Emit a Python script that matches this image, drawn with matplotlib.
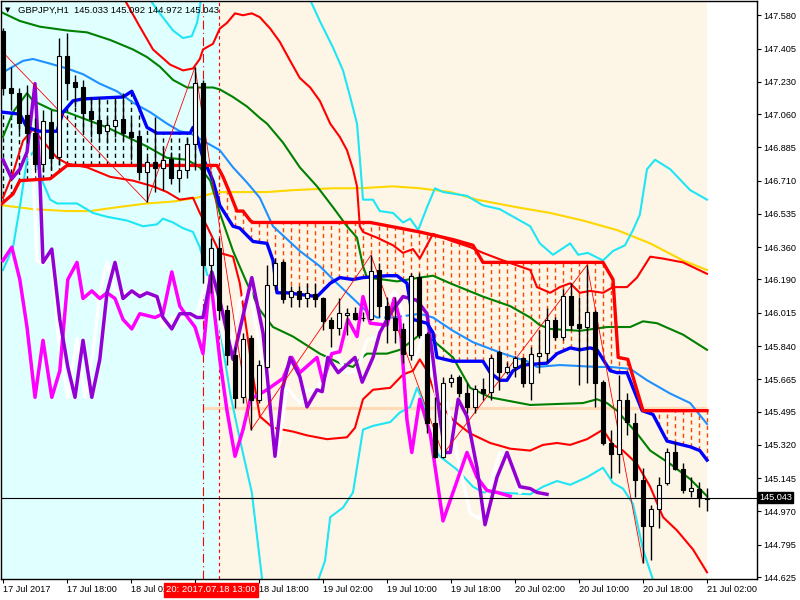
'''
    GBPJPY H1 chart with ichimoku / bands overlay, MT4 style
'''

# - Imports

import matplotlib
matplotlib.use("Agg")
import matplotlib.pyplot as plt
import numpy as np

# - Data

# Candles, bar 0 = 17 Jul 10:00, one bar per hour
opens = [147.496, 147.196, 147.170, 147.054, 146.960, 146.797, 147.018, 146.834, 147.365, 147.228,
         147.202, 147.075, 147.028, 146.970, 146.996, 147.033, 146.965, 146.944, 146.755, 146.807,
         146.776, 146.823, 146.723, 146.765, 146.902, 147.223, 146.266, 146.355, 146.029, 145.792,
         145.572, 145.882, 145.556, 145.729, 146.161, 146.281, 146.097, 146.129, 146.092, 146.113,
         146.092, 145.976, 145.934, 146.003, 146.013, 145.987, 145.982, 146.239, 146.050, 145.987,
         145.929, 145.792, 146.203, 145.903, 145.435, 145.256, 145.650, 145.677, 145.593, 145.519,
         145.614, 145.598, 145.808, 145.703, 145.729, 145.777, 145.645, 145.787, 145.803, 145.976,
         145.887, 146.103, 145.955, 145.940, 146.018, 145.650, 145.330, 145.272, 145.556, 145.435,
         145.135, 144.893, 144.983, 145.119, 145.282, 145.193, 145.077, 145.088, 145.033]
highs = [147.512, 147.307, 147.196, 147.212, 147.039, 147.081, 147.081, 147.459, 147.486, 147.265,
         147.238, 147.149, 147.149, 147.044, 147.144, 147.170, 147.033, 146.975, 146.834, 147.044,
         146.886, 146.860, 146.855, 146.939, 147.307, 147.238, 146.408, 146.408, 146.055, 145.835,
         145.908, 145.898, 145.766, 146.266, 146.302, 146.292, 146.155, 146.155, 146.171, 146.171,
         146.097, 145.992, 146.092, 146.040, 146.045, 146.018, 146.318, 146.276, 146.097, 146.097,
         145.961, 146.224, 146.224, 145.913, 145.572, 145.677, 145.692, 145.687, 145.645, 145.635,
         145.671, 145.792, 145.819, 145.756, 145.787, 145.782, 145.835, 145.924, 146.040, 145.992,
         146.139, 146.171, 146.097, 146.266, 146.029, 145.661, 145.398, 145.687, 145.593, 145.487,
         145.198, 145.004, 145.151, 145.303, 145.335, 145.225, 145.151, 145.125, 145.092]
lows = [147.160, 147.081, 146.965, 146.907, 146.765, 146.755, 146.765, 146.791, 147.133, 147.096,
        146.965, 146.939, 146.912, 146.907, 146.939, 146.923, 146.818, 146.713, 146.597, 146.649,
        146.660, 146.692, 146.649, 146.723, 146.765, 146.171, 146.118, 145.976, 145.740, 145.514,
        145.540, 145.398, 145.540, 145.724, 146.134, 146.066, 146.045, 146.045, 146.045, 146.045,
        145.924, 145.835, 145.898, 145.898, 145.976, 145.971, 145.976, 145.992, 145.856, 145.856,
        145.750, 145.766, 145.882, 145.382, 145.251, 145.251, 145.624, 145.572, 145.487, 145.487,
        145.556, 145.556, 145.608, 145.692, 145.677, 145.624, 145.556, 145.698, 145.756, 145.871,
        145.871, 145.924, 145.635, 145.645, 145.519, 145.319, 145.146, 145.172, 145.372, 145.046,
        144.699, 144.715, 144.883, 145.109, 145.188, 145.067, 145.046, 144.993, 144.972]
closes = [147.196, 147.170, 147.012, 146.960, 146.797, 147.023, 146.828, 147.365, 147.223, 147.202,
          147.065, 147.033, 146.960, 147.002, 147.028, 146.960, 146.939, 146.755, 146.807, 146.776,
          146.818, 146.723, 146.765, 146.902, 147.223, 146.266, 146.355, 146.029, 145.792, 145.566,
          145.877, 145.556, 145.740, 146.161, 146.276, 146.087, 146.129, 146.087, 146.118, 146.087,
          145.971, 145.934, 146.013, 146.013, 145.982, 145.989, 146.234, 146.050, 145.982, 145.924,
          145.798, 146.208, 145.898, 145.435, 145.256, 145.645, 145.671, 145.593, 145.519, 145.614,
          145.593, 145.777, 145.703, 145.729, 145.777, 145.645, 145.798, 145.803, 145.976, 145.887,
          146.103, 145.950, 145.934, 146.018, 145.645, 145.330, 145.272, 145.556, 145.440, 145.135,
          144.893, 144.983, 145.109, 145.282, 145.193, 145.083, 145.093, 145.040, 145.043]

# Thick red (senkou span B)
span_b_x = [-0.4, 1.25, 2.1, 5.9, 8.0, 24.6, 26.75, 27.5, 28.4, 29.25, 30.0, 30.9, 31.25, 45.9,
            52.1, 56.25, 58.75, 60.0, 75.0, 76.25, 76.9, 78.1, 80.0, 88.0]
span_b_y = [146.58, 146.64, 146.71, 146.72, 146.79, 146.79, 146.79, 146.73, 146.64, 146.55, 146.55,
            146.50, 146.49, 146.49, 146.44, 146.40, 146.37, 146.28, 146.28, 146.19, 145.78, 145.77,
            145.50, 145.50]

# Thick blue (senkou span A)
span_a_x = [0, 2.1, 3.0, 4.6, 6.75, 7.5, 8.75, 10, 15, 16.1, 16.75, 18, 19.25, 23.4, 23.75, 24.25,
            25, 26.25, 27.1, 28.75, 29.6, 31.25, 33, 33.75, 34.25, 35.5, 39.25, 40.9, 42.1, 43.75,
            45, 48, 49.25, 50.5, 51.25, 53, 53.75, 54.25, 56.25, 60, 60.9, 62.1, 63, 63.75, 65, 68,
            69.25, 70.9, 72.1, 73.4, 74.25, 75, 75.9, 76.75, 78, 78.75, 79.9, 81.25, 83, 85.9,
            87.1, 88]
span_a_y = [147.07, 147.06, 146.99, 146.97, 146.97, 147.07, 147.13, 147.14, 147.15, 147.18, 147.12,
            146.99, 146.96, 146.96, 146.99, 146.94, 146.83, 146.71, 146.58, 146.47, 146.46, 146.39,
            146.38, 146.29, 146.12, 146.12, 146.10, 146.17, 146.20, 146.19, 146.20, 146.21, 146.21,
            146.17, 145.98, 145.96, 145.91, 145.78, 145.76, 145.76, 145.70, 145.66, 145.66, 145.71,
            145.74, 145.75, 145.80, 145.83, 145.82, 145.83, 145.82, 145.77, 145.71, 145.70, 145.70,
            145.62, 145.50, 145.48, 145.34, 145.31, 145.29, 145.24]

# Dodger blue moving average
ma_x = [0, 1.25, 2.5, 3.75, 5.5, 8, 10, 12.1, 14.25, 16.25, 18.4, 20.5, 22.1, 23.4, 25, 27.1,
        28.75, 30.5, 32.1, 33.75, 37.1, 39.6, 41.75, 43.75, 45.5, 46.75, 48.75, 50.5, 52.1, 53.75,
        56.25, 58.75, 62.5, 65.5, 66.75, 69.6, 74.25, 75.9, 78.4, 80.5, 83.4, 85.9, 88]
ma_y = [147.28, 147.31, 147.34, 147.35, 147.33, 147.30, 147.27, 147.22, 147.18, 147.12, 147.07,
        147.01, 146.97, 146.96, 146.92, 146.87, 146.78, 146.70, 146.62, 146.47, 146.34, 146.26,
        146.17, 146.09, 146.02, 145.99, 145.99, 146.00, 146.01, 145.99, 145.92, 145.86, 145.80,
        145.76, 145.73, 145.74, 145.73, 145.73, 145.72, 145.66, 145.59, 145.54, 145.43]

# Green lines
green_up_x = [-0.4, 2.1, 4.6, 8, 10.5, 13.4, 16.25, 18, 19.6, 21.25, 23, 24.6, 26.25, 27.1, 28.75,
              30.5, 32.1, 33, 35, 37.1, 39.25, 41.25, 43, 44.25, 45, 45.5, 47.5, 49.25, 52.1,
              53.75, 55.9, 60, 63.4, 65.9, 67.1, 68.4, 72.1, 75.5, 78.4, 80, 81.75, 85, 88]
green_up_y = [147.60, 147.55, 147.52, 147.50, 147.49, 147.45, 147.40, 147.36, 147.31, 147.24,
              147.20, 147.20, 147.20, 147.19, 147.15, 147.10, 147.04, 147.01, 146.91, 146.78,
              146.68, 146.57, 146.47, 146.41, 146.26, 146.20, 146.19, 146.18, 146.20, 146.21,
              146.17, 146.10, 146.05, 145.99, 145.95, 145.93, 145.92, 145.94, 145.94, 145.97,
              145.96, 145.90, 145.82]
green_lo_x = [0, 1.25, 3, 3.75, 6.25, 8, 10.5, 13, 15.5, 18, 20.5, 23, 24.6, 25.9, 27.1, 28.75,
              30.5, 32.1, 33.75, 36.25, 39.6, 42.1, 43.75, 44.6, 45.5, 48, 49.6, 50.9, 52.1, 53.75,
              56.25, 58.4, 60.9, 65.9, 72.5, 74.25, 75.5, 76.75, 79.25, 80.9, 83.4, 85.9, 88]
green_lo_y = [146.94, 147.07, 147.17, 147.13, 147.08, 147.07, 147.03, 146.99, 146.94, 146.89,
              146.83, 146.82, 146.78, 146.71, 146.54, 146.34, 146.17, 146.03, 145.94, 145.89,
              145.80, 145.75, 145.73, 145.77, 145.80, 145.80, 145.82, 145.86, 145.90, 145.87,
              145.78, 145.62, 145.57, 145.53, 145.54, 145.56, 145.54, 145.50, 145.38, 145.29,
              145.22, 145.14, 145.05]

# Thin red bands
red_up_x = [10.9, 15.5, 17.1, 18.75, 20.9, 22.5, 23.75, 24.6, 25, 26.25, 27.1, 28, 29, 30, 31.1,
            32.1, 33.4, 34.6, 35.9, 37.1, 38.4, 39.6, 40.9, 42.1, 43, 43.75, 44.25, 44.6, 45,
            46.75, 48.75, 50, 51.25, 52.1, 53.75, 56.25, 58.4, 60, 62.5, 65.9, 66.75, 68.4, 69.6,
            70.9, 72.1, 73.4, 75, 76.25, 78, 79.25, 80.9, 82.5, 85, 88]
red_up_y = [147.98, 147.64, 147.52, 147.40, 147.32, 147.29, 147.30, 147.35, 147.40, 147.43,
            147.51, 147.54, 147.59, 147.58, 147.59, 147.57, 147.51, 147.44, 147.34, 147.25,
            147.20, 147.13, 147.01, 146.94, 146.87, 146.77, 146.68, 146.47, 146.44, 146.41,
            146.37, 146.33, 146.35, 146.30, 146.43, 146.39, 146.36, 146.33, 146.29, 146.24,
            146.15, 146.12, 146.15, 146.17, 146.12, 146.13, 146.12, 146.15, 146.15, 146.20,
            146.31, 146.30, 146.28, 146.22]
red_lo_x = [0, 1.25, 2.5, 3.75, 6.75, 8, 10.5, 13.4, 16.25, 18.75, 20.5, 22.1, 23.75, 24.6, 25.5,
            27.1, 28.75, 29.6, 30.5, 31.25, 32.1, 33.75, 36.25, 38, 40.5, 43, 44, 45, 46.25, 48.4,
            50, 51.25, 52.1, 53, 54.25, 56.25, 58.4, 60.9, 63.4, 65.9, 67.5, 69.25, 70.9, 73, 75,
            76.25, 77.5, 79.25, 80.9, 82.5, 84.25, 86.25, 88]
red_lo_y = [146.62, 146.75, 146.92, 146.98, 146.83, 146.80, 146.78, 146.73, 146.71, 146.68,
            146.65, 146.61, 146.62, 146.54, 146.47, 146.33, 146.31, 146.17, 145.91, 145.68,
            145.47, 145.41, 145.39, 145.37, 145.35, 145.36, 145.41, 145.56, 145.61, 145.62,
            145.69, 145.71, 145.77, 145.71, 145.56, 145.45, 145.38, 145.33, 145.30, 145.29,
            145.32, 145.33, 145.32, 145.35, 145.40, 145.32, 145.29, 145.22, 145.10, 144.94,
            144.87, 144.77, 144.65]

# Cyan outer bands
cyan_up_x = [17.75, 18.4, 19.6, 21.25, 22.5, 23.6, 24.25, 24.6, 25.25, 32.1, 37.1, 38.4, 39.6,
             41.25, 42.5, 43.4, 44.25, 44.6, 45, 46.25, 47.1, 48.75, 50, 50.9, 51.9, 53, 54, 55,
             58, 60, 62.1, 65.9, 67.1, 68.75, 70.9, 71.9, 73.1, 75, 76.25, 77.75, 78.75, 79.6,
             80.5, 81.5, 83.4, 85.9, 88]
cyan_up_y = [147.77, 147.66, 147.59, 147.50, 147.46, 147.47, 147.54, 147.62, 147.82, 148.08,
             147.77, 147.66, 147.55, 147.41, 147.29, 147.15, 147.01, 146.83, 146.61, 146.61,
             146.55, 146.54, 146.49, 146.51, 146.45, 146.57, 146.67, 146.65, 146.63, 146.58,
             146.56, 146.47, 146.38, 146.32, 146.38, 146.32, 146.33, 146.29, 146.34, 146.37,
             146.45, 146.53, 146.77, 146.82, 146.77, 146.66, 146.61]
cyan_lo_x = [0, 1.25, 2.1, 3, 3.75, 5, 5.9, 6.75, 9.25, 11.25, 13, 15.5, 17.5, 19.25, 20, 21.25,
             22.5, 23.75, 24.6, 25.5, 26.75, 28.4, 29.6, 31.1, 32.4, 35.9, 40.25, 40.9, 42.5,
             43.75, 45, 46.25, 48.4, 49.6, 50.9, 51.75, 52.4, 53, 53.75, 54.6, 56.75, 58.75, 60,
             61.75, 65.9, 67.5, 69.25, 70.9, 73, 75, 76.25, 77.5, 78.75, 80, 81.25, 84.6]
cyan_lo_y = [146.24, 146.36, 146.57, 146.82, 146.86, 146.70, 146.61, 146.59, 146.59, 146.54,
             146.52, 146.50, 146.47, 146.48, 146.51, 146.49, 146.46, 146.44, 146.36, 146.22,
             146.03, 145.59, 145.35, 145.07, 144.61, 144.19, 144.71, 144.94, 144.99, 145.07,
             145.40, 145.42, 145.44, 145.49, 145.52, 145.62, 145.56, 145.45, 145.31, 145.26,
             145.19, 145.10, 145.07, 145.07, 145.06, 145.10, 145.13, 145.11, 145.15, 145.20,
             145.12, 145.09, 145.01, 144.77, 144.61, 144.24]

# Gold long moving average
gold_x = [0, 3.75, 8, 10.9, 14.25, 18, 21.25, 24.25, 26.75, 28.75, 33, 36.25, 41.25, 44.6, 48.75,
          52.1, 55.9, 59.25, 64.25, 68.4, 72.5, 76.75, 80.9, 85, 88]
gold_y = [146.58, 146.56, 146.55, 146.55, 146.57, 146.59, 146.60, 146.62, 146.65, 146.65, 146.65,
          146.66, 146.67, 146.67, 146.68, 146.67, 146.65, 146.61, 146.57, 146.54, 146.50, 146.45,
          146.38, 146.29, 146.24]

# Lagging lines (magenta, purple, white)
mag_x = [0, 1.1, 2.1, 3, 4, 5, 6.1, 7.1, 8.1, 9.25, 10, 11.1, 12.1, 13, 14, 15, 16.1, 17.1, 19,
         20, 21.1, 22.1, 23.1, 24, 25, 25.9, 27.1, 28, 29, 30, 30.9, 33, 35, 36.1, 37.1, 39.25,
         40, 41.1, 42.1, 43.1, 44.25, 45, 45.9, 48, 48.9, 49.6, 50.5, 51.1, 52.1, 53.4, 55,
         56.25, 58, 59.25, 60.5, 61.75, 63.4]
mag_y = [146.29, 146.36, 146.19, 145.94, 145.57, 145.87, 145.57, 145.71, 146.19, 146.28, 146.09,
         146.13, 146.09, 146.12, 146.09, 145.98, 145.93, 146.01, 145.99, 146.01, 146.23, 146.05,
         145.99, 145.94, 145.80, 146.21, 145.77, 145.50, 145.26, 145.40, 145.56, 145.61, 145.67,
         145.78, 145.70, 145.78, 145.65, 145.80, 145.81, 145.98, 145.89, 146.10, 145.96, 145.95,
         146.09, 145.98, 145.45, 145.28, 145.56, 145.38, 144.92, 145.07, 145.28, 145.15, 145.08,
         145.07, 145.05]
pur_x = [0, 1.1, 2.1, 3, 4, 4.6, 5, 6.1, 7.1, 8.1, 9, 10, 11.1, 12.1, 13, 14, 15, 16.1, 17.1, 18,
         19.25, 20, 21.1, 22.1, 23.4, 24.25, 25, 26.1, 27.1, 28.75, 31.1, 32.5, 34, 34.9, 35.9,
         37.1, 38, 39.25, 39.9, 40.6, 41.9, 44, 44.9, 46.25, 47.1, 48, 48.75, 50, 51.75, 53,
         53.75, 54.6, 55.25, 55.9, 56.9, 58, 59.25, 60.25, 61.75, 63, 64.6, 65.9, 66.75, 68]
pur_y = [146.82, 146.72, 146.77, 146.86, 147.22, 146.73, 146.28, 146.35, 145.98, 145.73, 145.57,
         145.87, 145.57, 145.77, 146.12, 146.28, 146.09, 146.13, 146.10, 146.12, 146.10, 145.99,
         145.93, 146.01, 146.01, 145.99, 145.99, 146.23, 146.08, 145.77, 146.20, 145.91, 145.26,
         145.61, 145.78, 145.68, 145.52, 145.61, 145.60, 145.78, 145.70, 145.78, 145.65, 145.78,
         145.91, 145.98, 146.03, 146.10, 146.08, 146.01, 145.77, 145.47, 145.28, 145.28, 145.56,
         145.47, 145.20, 144.90, 145.15, 145.28, 145.10, 145.09, 145.07, 145.06]
wht_x = [3, 3.75, 4.25, 5, 6.1, 6.9, 8.1, 9.25, 10.25, 11.25, 12.1, 13, 14, 16.1, 18.1, 19.25, 20,
         21.1, 23.1, 24.25, 25.5, 26.5, 28.1, 29.6, 30.9, 32.1, 33, 34.25, 35.5, 37.1, 38, 39.25,
         40.5, 41.25, 43, 44.25, 45.5, 46.75, 48, 49, 50.25, 51.5, 52.75, 54.25, 55.5, 56.9,
         58.4, 59.6, 60.9, 62.1, 63.4, 64.6]
wht_y = [146.87, 146.79, 146.29, 146.27, 146.32, 145.89, 145.57, 145.88, 145.57, 145.80, 146.12,
         146.28, 146.13, 146.12, 146.12, 146.08, 145.94, 145.99, 145.99, 146.01, 146.20, 146.08,
         145.77, 146.08, 146.13, 145.82, 145.66, 145.26, 145.62, 145.54, 145.61, 145.60, 145.78,
         145.83, 145.70, 145.71, 145.87, 145.89, 146.08, 146.13, 145.98, 145.77, 145.92, 145.56,
         145.54, 145.24, 144.96, 144.93, 145.11, 145.28, 145.24, 145.07]

# Zigzag swing points
zz_x = [-1.5, 18, 24, 31, 46, 55, 73, 80]
zz_y = [147.45, 146.597, 147.307, 145.398, 146.318, 145.27, 146.266, 144.699]

# Levels, markers, labels
level_price = 145.514
last_price = 145.043
marker_bar = 25
vline_bar = 27
price_ticks = [147.580, 147.405, 147.230, 147.060, 146.885, 146.710, 146.535, 146.360, 146.190,
               146.015, 145.840, 145.665, 145.495, 145.320, 145.145, 144.970, 144.795, 144.625]
time_ticks = [0, 8, 16, 24, 32, 40, 48, 56, 64, 72, 80, 88]
# 18 Jul 10:00 sits under the red time marker label, so it is left blank
time_labels = ["17 Jul 2017", "17 Jul 18:00", "18 Jul 02:00", "", "18 Jul 18:00",
               "19 Jul 02:00", "19 Jul 10:00", "19 Jul 18:00", "20 Jul 02:00", "20 Jul 10:00",
               "20 Jul 18:00", "21 Jul 02:00"]


def main():
    '''Main'''

    plt.rcParams['font.family'] = ['Liberation Sans', 'DejaVu Sans']

    fig = plt.figure(figsize=(8, 6), dpi=100)
    ax = fig.add_axes([1 / 800, 21 / 600, 756 / 800, 578 / 600])
    ax.set_xlim(-0.25, 94.25)
    ax.set_ylim(144.6145, 147.655)

    # Background zones
    ax.axvspan(-0.25, vline_bar, color="#E0FFFF", lw=0, zorder=0)
    ax.axvspan(vline_bar, 88, color="#FDF5E6", lw=0, zorder=0)

    # Cloud hatching between the two spans
    bars = np.arange(len(opens))
    b_vals = np.interp(bars, span_b_x, span_b_y)
    a_vals = np.interp(bars, span_a_x, span_a_y)
    for i in bars:
        colour = "#FF4500" if b_vals[i] > a_vals[i] else "black"
        ax.vlines(i, min(a_vals[i], b_vals[i]), max(a_vals[i], b_vals[i]), colors=colour,
                  lw=1.0, linestyles=(0, (3, 2.5)), zorder=1)

    # Horizontal level and current price
    ax.hlines(level_price, marker_bar, 88, colors="#FFDAB9", lw=2.2, zorder=1)
    ax.axhline(last_price, color="black", lw=0.8, zorder=6)

    # Markers
    ax.axvline(marker_bar, color="red", lw=0.8, ls=(0, (8, 3, 1, 3)), zorder=1)
    ax.axvline(vline_bar, color="red", lw=0.8, ls=(0, (3, 3)), zorder=1)

    # Indicator lines
    ax.plot(gold_x, gold_y, color="#FFD700", lw=1.5, zorder=2)
    ax.plot(cyan_up_x, cyan_up_y, color="#1EE6F5", lw=1.5, zorder=2)
    ax.plot(cyan_lo_x, cyan_lo_y, color="#1EE6F5", lw=1.5, zorder=2)
    ax.plot(red_up_x, red_up_y, color="red", lw=1.5, zorder=2)
    ax.plot(red_lo_x, red_lo_y, color="red", lw=1.5, zorder=2)
    ax.plot(green_up_x, green_up_y, color="green", lw=1.5, zorder=2)
    ax.plot(green_lo_x, green_lo_y, color="green", lw=1.5, zorder=2)
    ax.plot(ma_x, ma_y, color="#1E90FF", lw=1.5, zorder=2)
    ax.plot(wht_x, wht_y, color="white", lw=2.5, zorder=3)
    ax.plot(mag_x, mag_y, color="#FF00FF", lw=2.5, zorder=3)
    ax.plot(pur_x, pur_y, color="#9400D3", lw=2.5, zorder=3)
    ax.plot(span_a_x, span_a_y, color="#0000FF", lw=2.4, zorder=3)
    ax.plot(span_b_x, span_b_y, color="red", lw=2.4, zorder=3)
    ax.plot(zz_x, zz_y, color="red", lw=0.6, zorder=3)

    # Candles
    o = np.array(opens)
    c = np.array(closes)
    ax.vlines(bars, lows, highs, colors="black", lw=1.0, zorder=4)
    body_lo = np.minimum(o, c)
    body_h = np.maximum(np.abs(c - o), 0.002)
    fills = ["white" if cl >= op else "black" for op, cl in zip(o, c)]
    ax.bar(bars, body_h, bottom=body_lo, width=0.6, color=fills, edgecolor="black",
           linewidth=0.8, zorder=5)

    # Axes styling
    for side in ["left", "top", "right", "bottom"]:
        ax.spines[side].set_linewidth(1.0)
    ax.yaxis.tick_right()
    ax.set_yticks(price_ticks)
    ax.set_yticklabels([f"{p:.3f}" for p in price_ticks], fontsize=6.6)
    ax.set_xticks(time_ticks)
    ax.set_xticklabels(time_labels, fontsize=6.6, ha="left")
    ax.tick_params(axis="both", length=3, width=0.8, pad=1.5, colors="black")

    # Header and labels
    fig.text(5 / 800, 1 - 10 / 600, "\u25BC", fontsize=5, va="center", family="DejaVu Sans")
    fig.text(18 / 800, 1 - 10 / 600, "GBPJPY,H1  145.033 145.092 144.972 145.043",
             fontsize=6.8, va="center")
    fig.text(759 / 800, 1 - 497.5 / 600, f"{last_price:.3f}", fontsize=6.6, va="center",
             color="white", bbox=dict(boxstyle="square,pad=0.15", fc="black", ec="black"))
    fig.text(211 / 800, 1 - 590 / 600, "20: 2017.07.18 13:00", fontsize=6.8, va="center",
             ha="center", color="white",
             bbox=dict(boxstyle="square,pad=0.25", fc="red", ec="red"))

    fig.savefig("out.png", dpi=100)


# - Main

if __name__ == "__main__":
    main()
